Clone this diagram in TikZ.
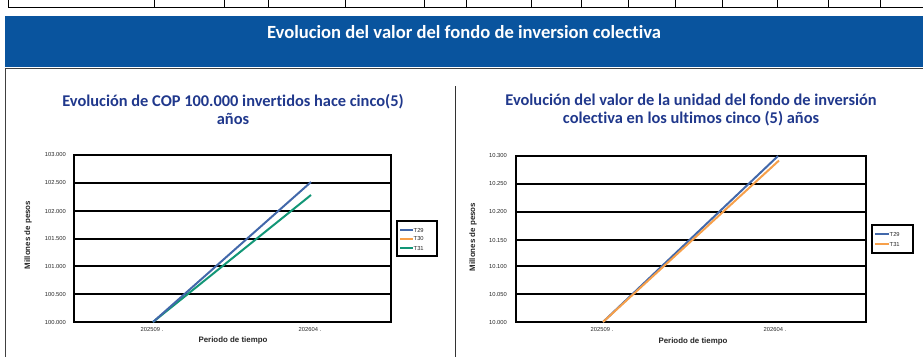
\documentclass[tikz,border=0pt]{standalone}
\usepackage{fontspec}
\setmainfont{Liberation Sans}
\newfontfamily\titlefont[Ligatures=NoCommon]{Carlito}
\definecolor{bandblue}{RGB}{9,84,158}
\definecolor{titleblue}{RGB}{32,56,140}
\definecolor{serT}{RGB}{66,104,170}
\definecolor{serG}{RGB}{18,150,118}
\definecolor{serO}{RGB}{247,160,74}
\begin{document}
\begin{tikzpicture}[x=1pt,y=-1pt,
  cell/.style={line width=1pt, black},
  header/.style={font=\titlefont\bfseries\fontsize{18.6}{20}\selectfont, text=white},
  charttitle/.style={font=\titlefont\bfseries\fontsize{16.4}{18}\selectfont, text=titleblue, align=center},
  grid/.style={line width=1.8pt, black},
  frame/.style={line width=2.6pt, black},
  tick/.style={font=\fontsize{5.8}{6}\selectfont, text=black!85, inner sep=0pt},
  axtitle/.style={font=\bfseries\fontsize{7.9}{8}\selectfont, text=black!85, inner sep=0pt},
  legbox/.style={line width=2pt, black},
  legtext/.style={font=\fontsize{5.8}{6}\selectfont, text=black!85, inner sep=0.5pt, anchor=west},
  series/.style={line width=2pt},
  legline/.style={line width=1.8pt}]
\useasboundingbox (0,0) rectangle (923,356);
% top table row
\draw[cell] (8,7.5) -- (923,7.5);
\foreach \x in {8,154,224,268,345,424,466,531,581,628,675,722,777,828,880}
  \draw[cell] (\x,-1) -- (\x,7.5);
% blue header band
\fill[bandblue] (5,16) rectangle (923,67);
\node[header] (hdr) at (464,32) {Evolucion del valor del fondo de inversion colectiva};
% content box
\draw[line width=1pt, black!75] (5.5,357) -- (5.5,68.5) -- (924,68.5);
\draw[line width=0.8pt, black!80] (455,86) -- (455,357);
% chart titles
\node[charttitle] (t1) at (233,109.5) {Evolución de COP 100.000 invertidos hace cinco(5)\\años};
\node[charttitle] (t2) at (691,109.5) {Evolución del valor de la unidad del fondo de inversión\\colectiva en los ultimos cinco (5) años};
% ---------------- left chart
\foreach \yy/\lab in {322/100.000,294/100.500,266/101.000,239/101.500,211/102.000,183/102.500,155/103.000}{
  \draw[grid] (74,\yy) -- (391,\yy);
  \node[tick, anchor=east] at (66,\yy) {\lab};
}
\draw[frame] (74,155) rectangle (391,322);
\node[tick] (lx1) at (152,329) {202509 .};
\node[tick] (lx2) at (310,329) {202604 .};
\node[axtitle] (lxt) at (233,340) {Periodo de tiempo};
\node[axtitle, rotate=90] (lyt) at (28,235) {Millones de pesos};
\coordinate (lA) at (153,322);
\coordinate (lB) at (311,182);
\coordinate (lC) at (311,195);
\draw[series, serG] (lA) -- (lC);
\draw[series, serT] (lA) -- (lB);
% left legend
\draw[legbox] (397,221) rectangle (437,256);
\draw[legline, serT] (400,230) -- (413,230);
\node[legtext] (lg1) at (413,230) {T29};
\draw[legline, serO] (400,239) -- (413,239);
\node[legtext] (lg2) at (413,239) {T30};
\draw[legline, serG] (400,248) -- (413,248);
\node[legtext] (lg3) at (413,248) {T31};
% ---------------- right chart
\foreach \yy/\lab in {322/10.000,294/10.050,266/10.100,240/10.150,212/10.200,184/10.250,156/10.300}{
  \draw[grid] (516,\yy) -- (866,\yy);
  \node[tick, anchor=east] at (507,\yy) {\lab};
}
\draw[frame] (516,156) rectangle (866,322);
\node[tick] (rx1) at (602,329) {202509 .};
\node[tick] (rx2) at (775,329) {202604 .};
\node[axtitle] (rxt) at (693,341) {Periodo de tiempo};
\node[axtitle, rotate=90] (ryt) at (473,237) {Millones de pesos};
\coordinate (rA) at (603,322);
\coordinate (rB) at (778,156);
\coordinate (rC) at (779,160.5);
\draw[series, serT] (rA) -- (rB);
\draw[series, serO] (rA) -- (rC);
% right legend
\draw[legbox] (872,225) rectangle (913,253);
\draw[legline, serT] (875,234) -- (889,234);
\node[legtext] (rg1) at (889,234) {T29};
\draw[legline, serO] (875,244) -- (889,244);
\node[legtext] (rg2) at (889,244) {T31};
\end{tikzpicture}
\end{document}
